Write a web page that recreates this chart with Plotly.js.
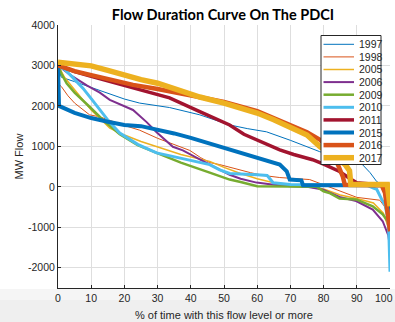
<!DOCTYPE html>
<html>
<head>
<meta charset="utf-8">
<script src="https://cdn.plot.ly/plotly-3.0.1.min.js"></script>
<style>html,body{margin:0;padding:0;background:#fff;}#chart{width:395px;height:322px;}</style>
</head>
<body>
<div id="chart"></div>
<script>
// ---- data ----
const years = ['1997','1998','2005','2006','2009','2010','2011','2015','2016','2017'];

const x1997 = [0, 1, 5, 10, 15, 20, 24.6, 33.6, 42.7, 51.7, 57, 62.8, 70, 75, 78.8, 85, 91.7, 94, 96, 98, 99.5, 100];
const y1997 = [2950, 2710, 2600, 2460, 2320, 2170, 2070, 1960, 1780, 1530, 1440, 1360, 1150, 1000, 870, 720, 550, 350, 130, 40, -100, -700];

const x1998 = [0, 1, 3, 5, 9.5, 12.6, 19.5, 24.6, 30, 35, 39.7, 43, 45.7, 48.7, 53, 58, 62, 66.8, 75.8, 80, 84, 90, 96.9, 98.5, 99.5, 100];
const y1998 = [2550, 2480, 2250, 2070, 1780, 1730, 1530, 1400, 1200, 1050, 900, 720, 600, 550, 450, 350, 280, 230, 180, 50, -66, -260, -330, -500, -800, -1300];

const x2005 = [0, 2, 5, 10, 15.6, 20, 25, 29.7, 37, 45.7, 50, 55, 60, 65, 70, 75, 80, 85, 90, 95, 98, 99.5, 100];
const y2005 = [3000, 2700, 2400, 1900, 1450, 1280, 1120, 1000, 800, 630, 480, 330, 200, 100, 20, 0, -50, -200, -290, -400, -650, -1000, -1400];

const x2006 = [0, 4, 8.8, 12.6, 15.6, 22.6, 26.7, 29.7, 34.6, 37.6, 42.7, 45.7, 51.7, 55, 59.8, 65, 70, 75, 79.7, 84.8, 89.8, 94.8, 97.8, 99.5, 100];
const y2006 = [3000, 2750, 2500, 2330, 2150, 1900, 1600, 1350, 990, 900, 680, 560, 300, 200, 105, 50, 15, 0, -66, -250, -350, -560, -850, -1200, -1500];

const x2009 = [0, 1, 2.6, 5, 9.5, 14, 18.6, 24, 29.7, 37, 45.7, 51.7, 55, 60, 70, 78, 80, 82, 84.8, 89.8, 94.8, 97.8, 99.3, 100];
const y2009 = [3000, 2800, 2560, 2330, 1980, 1620, 1300, 1030, 840, 600, 350, 180, 120, 15, 10, 0, -110, -160, -290, -310, -480, -680, -850, -950];

const x2010 = [0, 2, 4.5, 7.5, 10, 12.6, 15.5, 18.6, 24, 29.7, 37, 42.7, 45.7, 48.7, 51.7, 60, 63, 64.8, 70, 80, 93, 95, 96, 97.5, 98.5, 99.4, 99.7, 100];
const y2010 = [3000, 2900, 2700, 2440, 2180, 1900, 1600, 1330, 1050, 840, 700, 600, 550, 420, 330, 300, 280, 100, 60, 50, 40, -30, -60, -310, -450, -800, -1250, -2100];

const x2011 = [0, 5, 10, 15, 20, 24.6, 33.6, 42.7, 48.7, 51.7, 56, 61.7, 66.8, 71, 76.7, 80, 84.8, 88, 90, 96.9, 99, 100];
const y2011 = [3000, 2850, 2730, 2620, 2500, 2390, 2200, 1860, 1630, 1530, 1300, 1090, 915, 800, 670, 560, 380, 200, 100, 55, 40, -50];

const x2015 = [0, 0.3, 5, 10, 15, 20, 25, 30, 35, 40, 45, 48.7, 52, 58.6, 63, 66.8, 68.9, 69.8, 73.3, 73.8, 99.5, 100];
const y2015 = [3000, 2000, 1830, 1700, 1610, 1530, 1500, 1420, 1320, 1210, 1090, 1000, 930, 750, 650, 550, 385, 180, 160, 40, 40, 0];

const x2016 = [0, 5, 10, 15, 22.6, 30, 36.6, 42.7, 50, 60, 70, 75, 79, 82, 84.3, 85.8, 86.4, 97.5, 98.5, 99, 99.7, 100];
const y2016 = [3000, 2860, 2760, 2660, 2520, 2420, 2310, 2230, 2100, 1870, 1540, 1350, 1160, 900, 550, 250, 50, 40, -150, -480, -1050, -1100];

const x2017 = [0, 5, 10, 15, 20, 25, 30, 36, 42.7, 50, 55, 60, 65, 70, 75, 78.8, 82, 86.5, 87.8, 88.2, 99.2, 99.6, 100];
const y2017 = [3080, 3040, 2990, 2880, 2760, 2650, 2560, 2400, 2220, 2070, 1960, 1825, 1660, 1480, 1280, 1000, 800, 550, 400, 55, 55, -200, -480];

const xTicks = [0, 10, 20, 30, 40, 50, 60, 70, 80, 90, 100];
const yTicks = [-2000, -1000, 0, 1000, 2000, 3000, 4000];

// ---- styles ----
const xs = [x1997, x1998, x2005, x2006, x2009, x2010, x2011, x2015, x2016, x2017];
const ys = [y1997, y1998, y2005, y2006, y2009, y2010, y2011, y2015, y2016, y2017];
const colors = ['#0072BD', '#D95319', '#EDB120', '#7E2F8E', '#77AC30', '#4DBEEE', '#A2142F', '#0072BD', '#D95319', '#EDB120'];
const widths = [1, 1, 1.5, 2, 2.5, 3, 3.5, 4, 4.5, 5.5];

const traces = years.map((yr, i) => ({
  type: 'scatter', mode: 'lines', name: yr,
  x: xs[i], y: ys[i],
  line: {color: colors[i], width: widths[i]},
  showlegend: false, hoverinfo: 'skip'
}));

// plot area in pixels
const L = 58, R = 390, T = 25, B = 288;
const px = v => (v - L) / (R - L);
const py = v => (B - v) / (B - T);

const shapes = [];
const annotations = [];
const txtFont = {family: 'Liberation Sans, Arial, sans-serif', size: 10.5, color: '#262626'};

// light grey band at the bottom of the figure
shapes.push({type:'rect', xref:'paper', yref:'paper', x0:px(0), x1:px(395), y0:py(289), y1:py(300), fillcolor:'#f5f5f5', line:{width:0}, layer:'below'});
shapes.push({type:'rect', xref:'paper', yref:'paper', x0:px(0), x1:px(395), y0:py(300), y1:py(322), fillcolor:'#efefef', line:{width:0}, layer:'below'});

// legend box
shapes.push({type:'rect', xref:'paper', yref:'paper', x0:px(321), x1:px(381), y0:py(164.5), y1:py(35.5), fillcolor:'#ffffff', line:{color:'#262626', width:1}});
years.forEach((yr, i) => {
  const yy = 44.3 + i * 12.6;
  shapes.push({type:'line', xref:'paper', yref:'paper', x0:px(323.5), x1:px(354), y0:py(yy), y1:py(yy), line:{color:colors[i], width:widths[i]}});
  annotations.push({xref:'paper', yref:'paper', x:px(356.5), y:py(yy), xanchor:'left', yanchor:'middle', showarrow:false, text:yr, font:txtFont});
});

// axis titles
annotations.push({xref:'paper', yref:'paper', x:px(223.5), y:py(314.5), xanchor:'center', yanchor:'middle', showarrow:false,
  text:'% of time with this flow level or more', font:{family:'Liberation Sans, Arial, sans-serif', size:11, color:'#262626'}});
annotations.push({xref:'paper', yref:'paper', x:px(18), y:py(156.5), xanchor:'center', yanchor:'middle', showarrow:false, textangle:-90,
  text:'MW Flow', font:{family:'Liberation Sans, Arial, sans-serif', size:11, color:'#262626'}});

// last x tick label kept inside the window (it sits on the right edge)
const lastTick = xTicks[xTicks.length - 1];
annotations.push({xref:'x', yref:'paper', x:lastTick, y:py(298), xanchor:'right', yanchor:'middle', xshift:5, showarrow:false,
  text:String(lastTick), font:txtFont});

const axisCommon = {
  showgrid: true, gridcolor: '#dedede', gridwidth: 1,
  zeroline: false, showline: true, linecolor: '#262626', linewidth: 1,
  ticks: 'inside', ticklen: 3, tickcolor: '#262626', tickwidth: 1,
  tickfont: txtFont,
  fixedrange: true
};

const layout = {
  width: 395, height: 322,
  margin: {l: L, r: 395 - R, t: T, b: 322 - B, pad: 0},
  paper_bgcolor: '#ffffff', plot_bgcolor: 'rgba(0,0,0,0)',
  title: {text: '<b>Flow Duration Curve On The PDCI</b>', x: px(223), xref: 'paper', xanchor: 'center', y: 1 - 15/322, yref: 'container', yanchor: 'middle',
          font: {family: 'Lato, Open Sans, sans-serif', size: 14.5, color: '#000000'}},
  xaxis: Object.assign({}, axisCommon, {range: [0, 100], tickvals: xTicks, ticktext: xTicks.map((t, i) => i === xTicks.length - 1 ? '' : String(t))}),
  yaxis: Object.assign({}, axisCommon, {range: [-2500, 4000], tickvals: yTicks, ticktext: yTicks.map(String)}),
  shapes: shapes,
  annotations: annotations,
  showlegend: false
};

Plotly.newPlot('chart', traces, layout, {displayModeBar: false, staticPlot: true});
</script>
</body>
</html>
